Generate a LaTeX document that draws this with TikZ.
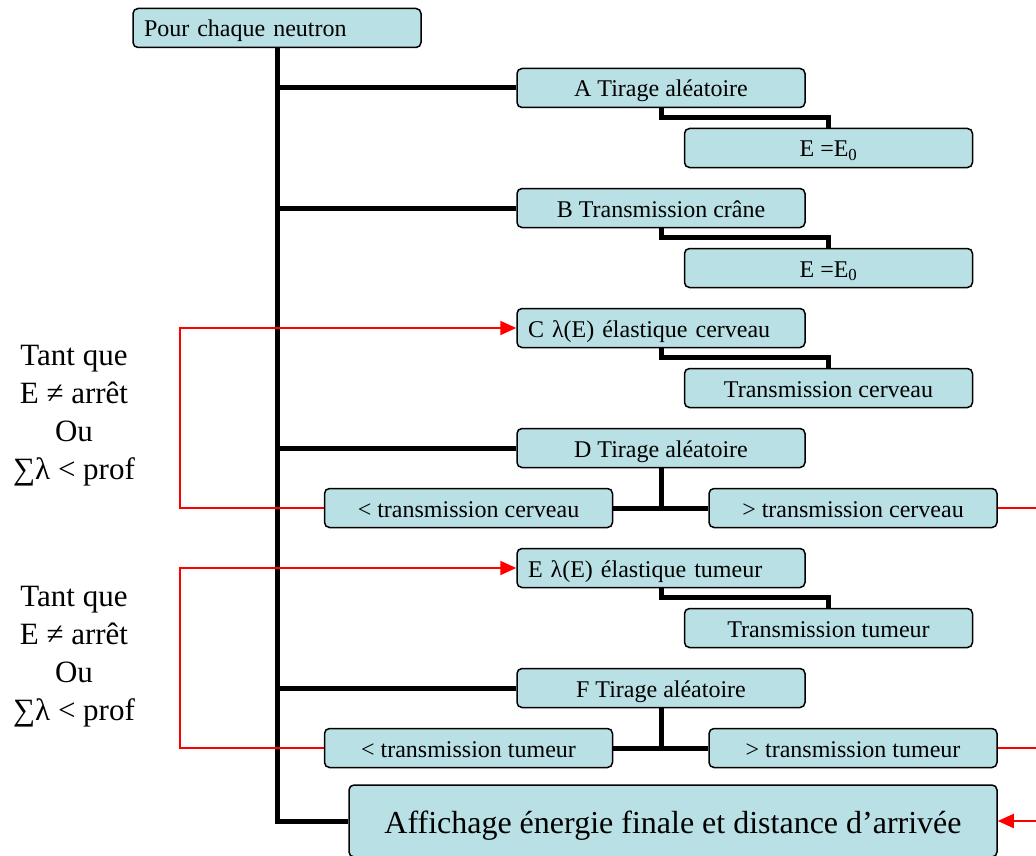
\documentclass[tikz,border=0pt]{standalone}
\usepackage{fontspec}
\setmainfont{Liberation Serif}
\usetikzlibrary{positioning,arrows.meta}
\definecolor{boxfill}{RGB}{185,224,228}

\begin{document}
\begin{tikzpicture}[x=1pt, y=-1pt, node distance=60pt, thick,
    box/.style = {draw, rounded corners=5pt, fill=boxfill, line width=1.5pt,
      minimum width=288pt, minimum height=39pt, inner sep=0pt,
      text height=21pt, text depth=3pt,
      font=\fontsize{24}{28}\selectfont},
    leftbox/.style = {box, text width=266pt, align=left},
    note/.style = {align=center, font=\fontsize{31}{38}\selectfont},
    link/.style = {line width=5pt},
    back/.style = {red, line width=2pt, -{Triangle[length=16pt,width=14pt]}},
    exitline/.style = {red, line width=2pt}]
    \useasboundingbox (0,0) rectangle (1036,856);

    \node[leftbox] (P) at (277,28) {Pour chaque neutron};
    \node[box] (A) at (661,88) {A Tirage aléatoire};
    \node[box] (E0a) [below of = A, xshift=167.5pt] {E =E\textsubscript{0}};
    \node[box] (B) [below of = E0a, xshift=-167.5pt] {B Transmission crâne};
    \node[box] (E0b) [below of = B, xshift=167.5pt] {E =E\textsubscript{0}};
    \node[leftbox] (C) [below of = E0b, xshift=-167.5pt] {C λ(E) élastique cerveau};
    \node[box] (TC) [below of = C, xshift=167.5pt] {Transmission cerveau};
    \node[box] (D) [below of = TC, xshift=-167.5pt] {D Tirage aléatoire};
    \node[box] (ltc) [below of = D, xshift=-192.5pt] {< transmission cerveau};
    \node[box] (gtc) [below of = D, xshift=192pt] {> transmission cerveau};
    \node[leftbox] (E) [below of = ltc, xshift=192.5pt] {E λ(E) élastique tumeur};
    \node[box] (TT) [below of = E, xshift=167.5pt] {Transmission tumeur};
    \node[box] (F) [below of = TT, xshift=-167.5pt] {F Tirage aléatoire};
    \node[box] (ltt) [below of = F, xshift=-192.5pt] {< transmission tumeur};
    \node[box] (gtt) [below of = F, xshift=192pt] {> transmission tumeur};
    \node[box, minimum width=648pt, minimum height=72pt,
      text height=28pt, text depth=4pt,
      font=\fontsize{32}{36}\selectfont] (Aff) at (673,821)
      {Affichage énergie finale et distance d’arrivée};

    \node[note] (w1) at (74,416) {Tant que\\E ≠ arrêt\\Ou\\∑λ < prof};
    \node[note] (w2) at (74,657) {Tant que\\E ≠ arrêt\\Ou\\∑λ < prof};

    % tronc
    \draw[link] (P.south) |- (Aff.west);
    \draw[link] (P.south |- A.west) -- (A.west);
    \draw[link] (P.south |- B.west) -- (B.west);
    \draw[link] (P.south |- D.west) -- (D.west);
    \draw[link] (P.south |- F.west) -- (F.west);

    \draw[link] (A.south) |- ([yshift=10pt]E0a.north) -- (E0a.north);
    \draw[link] (B.south) |- ([yshift=10pt]E0b.north) -- (E0b.north);
    \draw[link] (C.south) |- ([yshift=10pt]TC.north) -- (TC.north);
    \draw[link] (E.south) |- ([yshift=10pt]TT.north) -- (TT.north);
    \draw[link] (D.south) -- (D.south |- ltc.east);
    \draw[link] (ltc.east) -- (gtc.west);
    \draw[link] (F.south) -- (F.south |- ltt.east);
    \draw[link] (ltt.east) -- (gtt.west);

    % boucles
    \draw[back] (ltc.west) -- ++(-143.5,0) |- (C.west);
    \draw[back] (ltt.west) -- ++(-143.5,0) |- (E.west);
    \coordinate (oc) at (1036,508);
    \coordinate (ot) at (1036,748);
    \coordinate (oa) at (1036,821);
    \draw[exitline] (gtc.east) -- (oc);
    \draw[exitline] (gtt.east) -- (ot);
    \draw[back] (oa) -- (Aff.east);
\end{tikzpicture}
\end{document}
